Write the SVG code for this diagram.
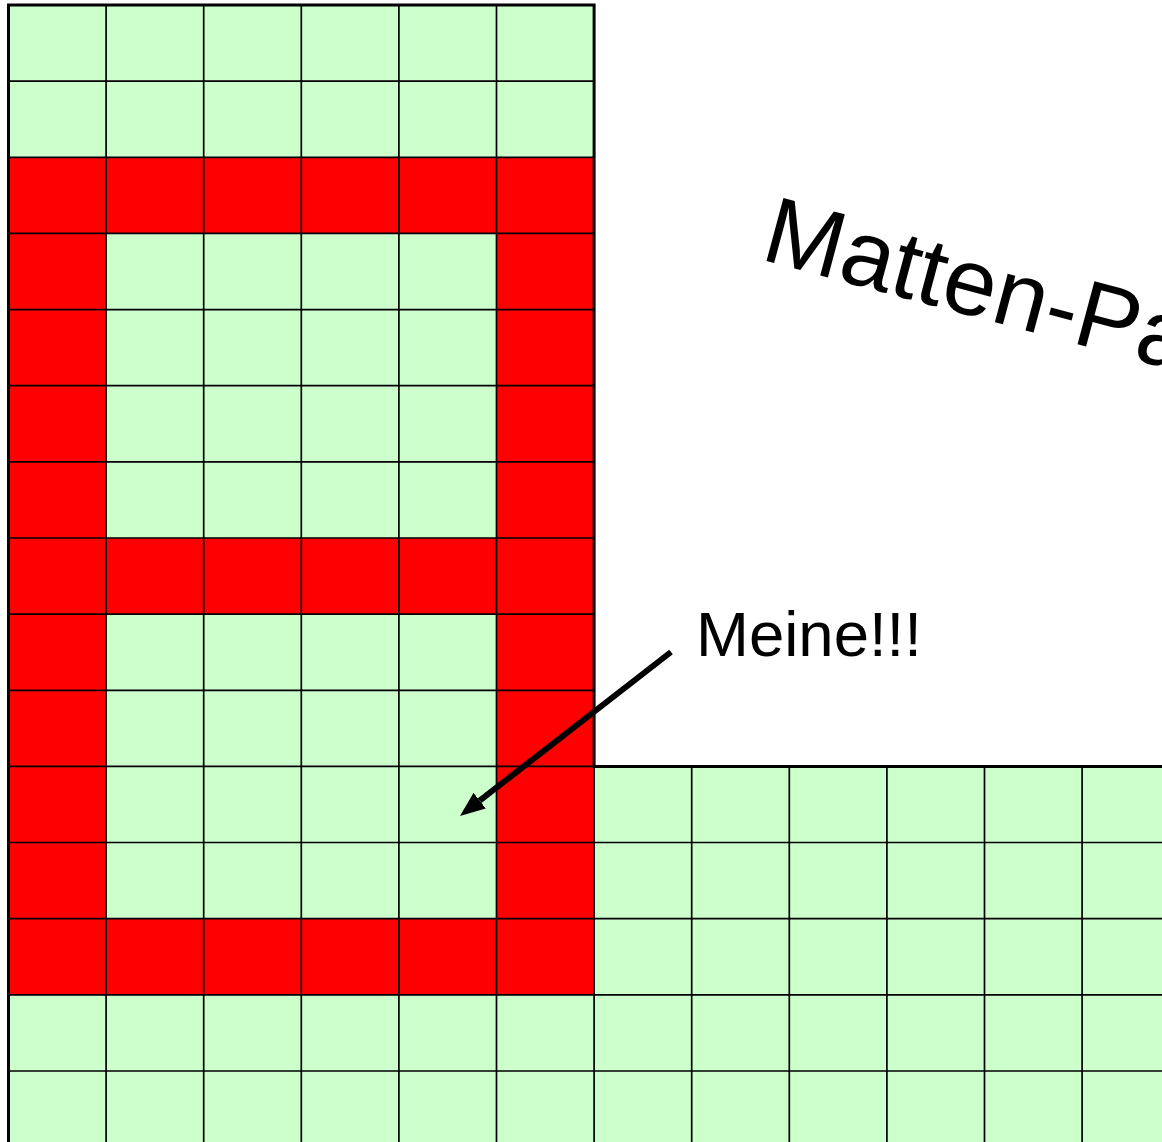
<svg xmlns="http://www.w3.org/2000/svg" width="1162" height="1142" viewBox="0 0 1162 1142">
<style>
.g{fill:#CCFFCC}
.r{fill:#FF0000}
.thin{stroke:#000;stroke-width:1.7;fill:none}
.thick{stroke:#000;stroke-width:3;fill:none}
.lbl{font-family:"Liberation Sans",Arial,sans-serif;fill:#000}
</style>
<defs>
<marker id="ah" markerUnits="userSpaceOnUse" markerWidth="26" markerHeight="22" refX="0" refY="10" orient="auto" viewBox="0 0 26 20">
<path d="M0,0 L25,10 L0,20 z" fill="#000"/>
</marker>
</defs>
<rect width="1162" height="1142" fill="#fff"/>
<g id="mat-upper">
<rect class="g" x="8.5" y="5" width="585.6" height="1137"/>
</g>
<g id="mat-lower">
<rect class="g" x="594.1" y="766.4" width="567.9" height="375.6"/>
</g>
<g id="marked">
<rect class="r" x="8.5" y="157.3" width="585.6" height="76.1"/>
<rect class="r" x="8.5" y="538" width="585.6" height="76.1"/>
<rect class="r" x="8.5" y="918.7" width="585.6" height="76.1"/>
<rect class="r" x="8.5" y="157.3" width="97.6" height="837.5"/>
<rect class="r" x="496.5" y="157.3" width="97.6" height="837.5"/>
</g>
<g id="grid">
<path class="thin" d="M106.1,5V1142 M203.7,5V1142 M301.3,5V1142 M398.9,5V1142 M496.5,5V1142 M594.1,766.4V1142 M691.7,766.4V1142 M789.3,766.4V1142 M886.9,766.4V1142 M984.5,766.4V1142 M1082.1,766.4V1142"/>
<path class="thin" d="M8.5,81.1H594.1 M8.5,157.3H594.1 M8.5,233.4H594.1 M8.5,309.6H594.1 M8.5,385.7H594.1 M8.5,461.8H594.1 M8.5,538H594.1 M8.5,614.1H594.1 M8.5,690.3H594.1 M8.5,766.4H594.1 M8.5,842.5H1162 M8.5,918.7H1162 M8.5,994.8H1162 M8.5,1071H1162"/>
<path class="thick" d="M8.5,1142V5H594.1V766.4H1162"/>
</g>
<g id="title">
<text class="lbl" x="759" y="259" font-size="95" transform="rotate(15 759 259)">Matten-Pa</text>
</g>
<g id="note">
<text class="lbl" x="696" y="656" font-size="63.5">Meine!!!</text>
</g>
<g id="connectors">
<line x1="671" y1="652" x2="479.7" y2="800.6" stroke="#000" stroke-width="6" marker-end="url(#ah)"/>
</g>
</svg>
